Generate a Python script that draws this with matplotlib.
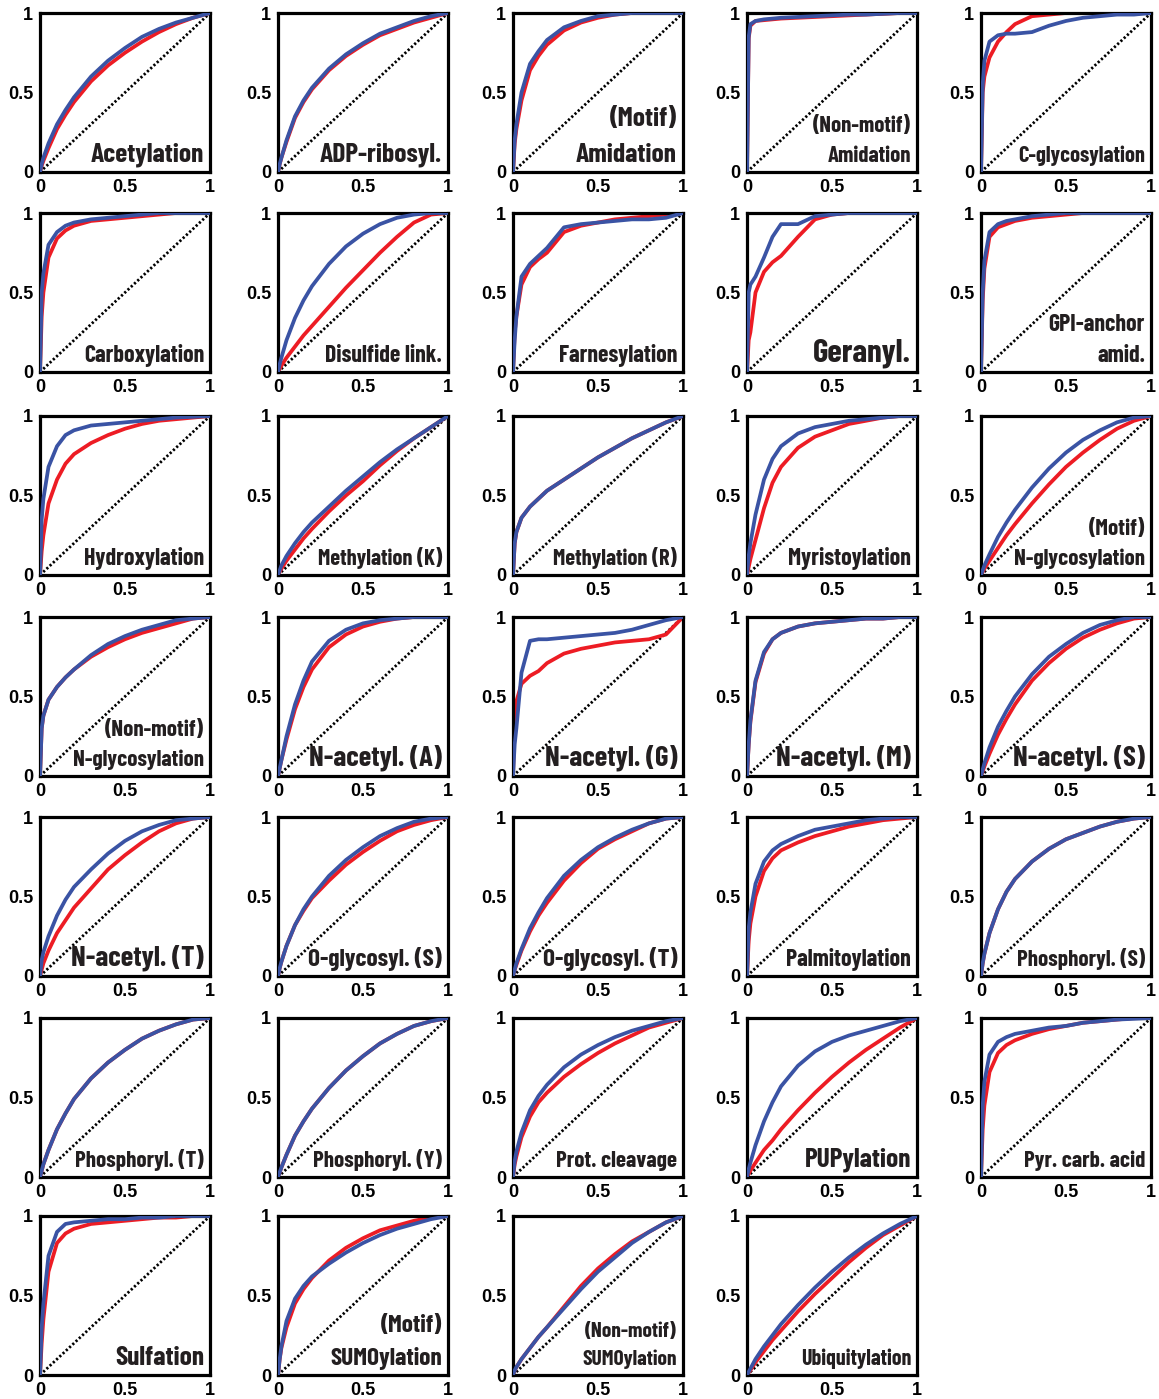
import matplotlib
matplotlib.use("Agg")
import matplotlib.pyplot as plt
from matplotlib import font_manager as fm
from matplotlib import transforms

# ---------------- data ----------------
fpr = [0, 0.01, 0.02, 0.05, 0.1, 0.15, 0.2, 0.3, 0.4, 0.5, 0.6, 0.7, 0.8, 0.9, 1.0]

acetylation_red = [0, 0.04, 0.07, 0.15, 0.27, 0.36, 0.44, 0.57, 0.67, 0.75, 0.82, 0.88, 0.93, 0.97, 1]
acetylation_blue = [0, 0.05, 0.09, 0.18, 0.30, 0.39, 0.47, 0.60, 0.70, 0.78, 0.85, 0.90, 0.94, 0.97, 1]
adp_red = [0, 0.05, 0.09, 0.19, 0.34, 0.44, 0.52, 0.64, 0.73, 0.80, 0.86, 0.90, 0.94, 0.97, 1]
adp_blue = [0, 0.05, 0.09, 0.20, 0.35, 0.45, 0.53, 0.65, 0.74, 0.81, 0.87, 0.91, 0.95, 0.98, 1]
amid_motif_red = [0, 0.18, 0.27, 0.45, 0.64, 0.73, 0.80, 0.89, 0.94, 0.97, 0.99, 1, 1, 1, 1]
amid_motif_blue = [0, 0.20, 0.30, 0.50, 0.68, 0.76, 0.83, 0.91, 0.95, 0.98, 0.99, 1, 1, 1, 1]
amid_nonmotif_red = [0, 0.84, 0.92, 0.95, 0.955, 0.96, 0.965, 0.97, 0.975, 0.98, 0.985, 0.99, 0.995, 1, 1]
amid_nonmotif_blue = [0, 0.85, 0.93, 0.95, 0.96, 0.965, 0.97, 0.975, 0.98, 0.985, 0.99, 0.99, 0.995, 1, 1]
cglyco_red = [0, 0.50, 0.60, 0.72, 0.82, 0.88, 0.93, 0.98, 0.99, 1, 1, 1, 1, 1, 1]
cglyco_blue = [0, 0.55, 0.70, 0.82, 0.86, 0.87, 0.87, 0.88, 0.92, 0.95, 0.97, 0.98, 0.99, 0.99, 1]

carboxylation_red = [0, 0.35, 0.50, 0.72, 0.84, 0.89, 0.92, 0.95, 0.96, 0.97, 0.98, 0.99, 1, 1, 1]
carboxylation_blue = [0, 0.50, 0.62, 0.80, 0.88, 0.92, 0.94, 0.96, 0.97, 0.98, 0.99, 1, 1, 1, 1]
disulfide_red = [0, 0.02, 0.04, 0.09, 0.16, 0.23, 0.29, 0.41, 0.53, 0.64, 0.75, 0.85, 0.94, 0.99, 1]
disulfide_blue = [0, 0.05, 0.09, 0.20, 0.34, 0.45, 0.54, 0.68, 0.79, 0.87, 0.93, 0.97, 0.99, 1, 1]
farnesyl_red = [0, 0.25, 0.35, 0.55, 0.66, 0.71, 0.75, 0.88, 0.92, 0.94, 0.96, 0.97, 0.98, 0.99, 1]
farnesyl_blue = [0, 0.20, 0.35, 0.60, 0.68, 0.73, 0.78, 0.91, 0.93, 0.94, 0.95, 0.96, 0.96, 0.97, 1]
geranyl_red = [0, 0.20, 0.25, 0.50, 0.63, 0.69, 0.73, 0.85, 0.96, 0.99, 1, 1, 1, 1, 1]
geranyl_blue = [0, 0.50, 0.55, 0.60, 0.72, 0.85, 0.93, 0.93, 0.98, 0.99, 1, 1, 1, 1, 1]
gpi_red = [0, 0.45, 0.65, 0.85, 0.91, 0.93, 0.95, 0.97, 0.98, 0.99, 1, 1, 1, 1, 1]
gpi_blue = [0, 0.50, 0.70, 0.88, 0.93, 0.95, 0.96, 0.98, 0.99, 1, 1, 1, 1, 1, 1]

hydroxyl_red = [0, 0.15, 0.25, 0.45, 0.60, 0.70, 0.76, 0.83, 0.88, 0.92, 0.95, 0.97, 0.98, 0.99, 1]
hydroxyl_blue = [0, 0.35, 0.48, 0.68, 0.81, 0.88, 0.91, 0.94, 0.95, 0.96, 0.97, 0.98, 0.99, 0.995, 1]
methyl_k_red = [0, 0.02, 0.04, 0.09, 0.16, 0.23, 0.29, 0.40, 0.50, 0.59, 0.69, 0.78, 0.86, 0.93, 1]
methyl_k_blue = [0, 0.03, 0.06, 0.12, 0.20, 0.27, 0.33, 0.43, 0.53, 0.62, 0.71, 0.79, 0.86, 0.93, 1]
methyl_r_red = [0, 0.20, 0.27, 0.36, 0.43, 0.48, 0.53, 0.60, 0.67, 0.74, 0.80, 0.86, 0.91, 0.96, 1]
methyl_r_blue = [0, 0.20, 0.27, 0.36, 0.43, 0.48, 0.53, 0.60, 0.67, 0.74, 0.80, 0.86, 0.91, 0.96, 1]
myristoyl_red = [0, 0.05, 0.10, 0.22, 0.42, 0.58, 0.68, 0.80, 0.87, 0.91, 0.95, 0.97, 0.99, 1, 1]
myristoyl_blue = [0, 0.12, 0.20, 0.38, 0.60, 0.73, 0.81, 0.89, 0.93, 0.95, 0.97, 0.98, 0.99, 1, 1]
nglyco_motif_red = [0, 0.02, 0.04, 0.09, 0.17, 0.25, 0.32, 0.45, 0.57, 0.68, 0.77, 0.85, 0.92, 0.97, 1]
nglyco_motif_blue = [0, 0.03, 0.06, 0.13, 0.24, 0.33, 0.41, 0.55, 0.67, 0.77, 0.85, 0.91, 0.96, 0.99, 1]

nglyco_nonmotif_red = [0, 0.30, 0.38, 0.48, 0.56, 0.62, 0.67, 0.75, 0.81, 0.86, 0.90, 0.93, 0.96, 0.99, 1]
nglyco_nonmotif_blue = [0, 0.30, 0.38, 0.48, 0.56, 0.62, 0.67, 0.76, 0.83, 0.88, 0.92, 0.95, 0.98, 0.99, 1]
nacetyl_a_red = [0, 0.05, 0.10, 0.23, 0.42, 0.56, 0.67, 0.81, 0.89, 0.94, 0.97, 0.99, 1, 1, 1]
nacetyl_a_blue = [0, 0.05, 0.10, 0.25, 0.45, 0.60, 0.72, 0.85, 0.92, 0.96, 0.98, 0.99, 1, 1, 1]
nacetyl_g_red = [0, 0.40, 0.47, 0.58, 0.63, 0.66, 0.71, 0.77, 0.80, 0.82, 0.84, 0.85, 0.86, 0.89, 1]
nacetyl_g_blue = [0, 0.20, 0.30, 0.65, 0.85, 0.86, 0.86, 0.87, 0.88, 0.89, 0.90, 0.92, 0.95, 0.98, 1]
nacetyl_m_red = [0, 0.20, 0.34, 0.59, 0.77, 0.86, 0.90, 0.94, 0.96, 0.97, 0.98, 0.99, 0.99, 1, 1]
nacetyl_m_blue = [0, 0.20, 0.35, 0.60, 0.78, 0.86, 0.90, 0.94, 0.96, 0.97, 0.98, 0.99, 0.99, 1, 1]
nacetyl_s_red = [0, 0.03, 0.06, 0.14, 0.26, 0.36, 0.45, 0.60, 0.71, 0.80, 0.87, 0.92, 0.96, 0.99, 1]
nacetyl_s_blue = [0, 0.04, 0.08, 0.18, 0.31, 0.41, 0.50, 0.64, 0.75, 0.83, 0.90, 0.95, 0.98, 1, 1]

nacetyl_t_red = [0, 0.04, 0.08, 0.16, 0.27, 0.35, 0.43, 0.55, 0.67, 0.76, 0.84, 0.91, 0.96, 0.99, 1]
nacetyl_t_blue = [0, 0.10, 0.15, 0.25, 0.38, 0.48, 0.56, 0.67, 0.77, 0.85, 0.91, 0.95, 0.98, 0.99, 1]
oglyco_s_red = [0, 0.05, 0.09, 0.19, 0.32, 0.41, 0.49, 0.60, 0.70, 0.78, 0.85, 0.91, 0.95, 0.98, 1]
oglyco_s_blue = [0, 0.05, 0.09, 0.19, 0.32, 0.42, 0.50, 0.63, 0.73, 0.81, 0.88, 0.93, 0.97, 0.99, 1]
oglyco_t_red = [0, 0.04, 0.07, 0.16, 0.28, 0.38, 0.46, 0.60, 0.71, 0.80, 0.86, 0.91, 0.96, 0.99, 1]
oglyco_t_blue = [0, 0.04, 0.08, 0.17, 0.30, 0.40, 0.49, 0.63, 0.73, 0.81, 0.87, 0.92, 0.96, 0.99, 1]
palmitoyl_red = [0, 0.22, 0.33, 0.50, 0.66, 0.74, 0.79, 0.84, 0.88, 0.91, 0.94, 0.96, 0.98, 0.99, 1]
palmitoyl_blue = [0, 0.30, 0.40, 0.58, 0.72, 0.79, 0.83, 0.88, 0.92, 0.94, 0.96, 0.98, 0.99, 1, 1]
phos_s_red = [0, 0.08, 0.14, 0.27, 0.42, 0.53, 0.61, 0.72, 0.80, 0.86, 0.90, 0.94, 0.97, 0.99, 1]
phos_s_blue = [0, 0.08, 0.14, 0.27, 0.42, 0.53, 0.61, 0.72, 0.80, 0.86, 0.90, 0.94, 0.97, 0.99, 1]

phos_t_red = [0, 0.04, 0.08, 0.17, 0.30, 0.40, 0.49, 0.62, 0.72, 0.80, 0.87, 0.92, 0.96, 0.99, 1]
phos_t_blue = [0, 0.04, 0.08, 0.17, 0.30, 0.40, 0.49, 0.62, 0.72, 0.80, 0.87, 0.92, 0.96, 0.99, 1]
phos_y_red = [0, 0.03, 0.06, 0.14, 0.26, 0.35, 0.43, 0.56, 0.67, 0.76, 0.84, 0.90, 0.95, 0.98, 1]
phos_y_blue = [0, 0.03, 0.06, 0.14, 0.26, 0.35, 0.43, 0.56, 0.67, 0.76, 0.84, 0.90, 0.95, 0.98, 1]
cleavage_red = [0, 0.08, 0.13, 0.25, 0.38, 0.47, 0.53, 0.63, 0.71, 0.78, 0.84, 0.89, 0.94, 0.97, 1]
cleavage_blue = [0, 0.10, 0.16, 0.28, 0.42, 0.51, 0.58, 0.69, 0.77, 0.83, 0.88, 0.92, 0.95, 0.98, 1]
pup_red = [0, 0.02, 0.04, 0.09, 0.17, 0.23, 0.30, 0.42, 0.53, 0.63, 0.72, 0.80, 0.87, 0.94, 1]
pup_blue = [0, 0.05, 0.09, 0.20, 0.35, 0.47, 0.57, 0.70, 0.79, 0.85, 0.89, 0.92, 0.95, 0.98, 1]
pyr_red = [0, 0.30, 0.45, 0.66, 0.78, 0.83, 0.86, 0.90, 0.93, 0.95, 0.97, 0.98, 0.99, 1, 1]
pyr_blue = [0, 0.45, 0.60, 0.77, 0.85, 0.88, 0.90, 0.92, 0.94, 0.95, 0.97, 0.98, 0.99, 0.995, 1]

sulfation_red = [0, 0.20, 0.35, 0.65, 0.83, 0.89, 0.92, 0.95, 0.96, 0.97, 0.98, 0.99, 0.99, 1, 1]
sulfation_blue = [0, 0.30, 0.45, 0.75, 0.90, 0.95, 0.96, 0.97, 0.98, 0.98, 0.99, 0.99, 1, 1, 1]
sumo_motif_red = [0, 0.10, 0.17, 0.30, 0.45, 0.54, 0.61, 0.72, 0.80, 0.86, 0.91, 0.94, 0.97, 0.99, 1]
sumo_motif_blue = [0, 0.10, 0.18, 0.34, 0.48, 0.56, 0.62, 0.70, 0.77, 0.83, 0.88, 0.92, 0.95, 0.98, 1]
sumo_nonmotif_red = [0, 0.03, 0.05, 0.10, 0.17, 0.24, 0.30, 0.43, 0.56, 0.67, 0.76, 0.84, 0.90, 0.96, 1]
sumo_nonmotif_blue = [0, 0.03, 0.05, 0.10, 0.17, 0.24, 0.30, 0.42, 0.54, 0.65, 0.74, 0.83, 0.90, 0.96, 1]
ubiq_red = [0, 0.015, 0.03, 0.08, 0.15, 0.22, 0.28, 0.40, 0.51, 0.61, 0.71, 0.80, 0.88, 0.94, 1]
ubiq_blue = [0, 0.02, 0.04, 0.10, 0.18, 0.25, 0.32, 0.44, 0.55, 0.65, 0.74, 0.82, 0.89, 0.95, 1]

labels = [
    ["Acetylation"], ["ADP-ribosyl."], ["(Motif)", "Amidation"], ["(Non-motif)", "Amidation"], ["C-glycosylation"],
    ["Carboxylation"], ["Disulfide link."], ["Farnesylation"], ["Geranyl."], ["GPI-anchor", "amid."],
    ["Hydroxylation"], ["Methylation (K)"], ["Methylation (R)"], ["Myristoylation"], ["(Motif)", "N-glycosylation"],
    ["(Non-motif)", "N-glycosylation"], ["N-acetyl. (A)"], ["N-acetyl. (G)"], ["N-acetyl. (M)"], ["N-acetyl. (S)"],
    ["N-acetyl. (T)"], ["O-glycosyl. (S)"], ["O-glycosyl. (T)"], ["Palmitoylation"], ["Phosphoryl. (S)"],
    ["Phosphoryl. (T)"], ["Phosphoryl. (Y)"], ["Prot. cleavage"], ["PUPylation"], ["Pyr. carb. acid"],
    ["Sulfation"], ["(Motif)", "SUMOylation"], ["(Non-motif)", "SUMOylation"], ["Ubiquitylation"],
]
red_curves = [acetylation_red, adp_red, amid_motif_red, amid_nonmotif_red, cglyco_red,
              carboxylation_red, disulfide_red, farnesyl_red, geranyl_red, gpi_red,
              hydroxyl_red, methyl_k_red, methyl_r_red, myristoyl_red, nglyco_motif_red,
              nglyco_nonmotif_red, nacetyl_a_red, nacetyl_g_red, nacetyl_m_red, nacetyl_s_red,
              nacetyl_t_red, oglyco_s_red, oglyco_t_red, palmitoyl_red, phos_s_red,
              phos_t_red, phos_y_red, cleavage_red, pup_red, pyr_red,
              sulfation_red, sumo_motif_red, sumo_nonmotif_red, ubiq_red]
blue_curves = [acetylation_blue, adp_blue, amid_motif_blue, amid_nonmotif_blue, cglyco_blue,
               carboxylation_blue, disulfide_blue, farnesyl_blue, geranyl_blue, gpi_blue,
               hydroxyl_blue, methyl_k_blue, methyl_r_blue, myristoyl_blue, nglyco_motif_blue,
               nglyco_nonmotif_blue, nacetyl_a_blue, nacetyl_g_blue, nacetyl_m_blue, nacetyl_s_blue,
               nacetyl_t_blue, oglyco_s_blue, oglyco_t_blue, palmitoyl_blue, phos_s_blue,
               phos_t_blue, phos_y_blue, cleavage_blue, pup_blue, pyr_blue,
               sulfation_blue, sumo_motif_blue, sumo_nonmotif_blue, ubiq_blue]
ticks = [0, 0.5, 1]
tick_labels = ["0", "0.5", "1"]

# relative label sizes
label_scale = [1.0, 1.0, 1.0, 0.83, 0.82,
               0.87, 0.87, 0.87, 1.2, 0.87,
               0.87, 0.82, 0.82, 0.87, 0.84,
               0.84, 1.05, 1.05, 1.05, 1.05,
               1.05, 0.92, 0.92, 0.87, 0.84,
               0.84, 0.84, 0.84, 1.0, 0.84,
               1.0, 0.92, 0.78, 0.8]

# ---------------- fonts ----------------
names = {f.name for f in fm.fontManager.ttflist}
label_family = ["DejaVu Sans"]
base_fs = 17
for cand, fsz in [("Barlow Condensed", 19.8), ("Asap Condensed", 19),
                  ("Archivo Narrow", 19), ("Liberation Sans Narrow", 17)]:
    if cand in names:
        label_family = [cand, "DejaVu Sans"]
        base_fs = fsz
        break
tick_family = ["Liberation Sans", "DejaVu Sans"]

RED = "#ED1C24"
BLUE = "#3A53A4"
TXT = "#231F20"

W, H = 1159, 1399
fig = plt.figure(figsize=(W / 100, H / 100), dpi=100)

col_left = [40, 278, 513, 747, 981]
row_top = [13, 213, 416, 617, 817, 1018, 1216]
aw, ah = 170, 159

for i, lab in enumerate(labels):
    r, c = divmod(i, 5)
    l = col_left[c] / W
    b = 1 - (row_top[r] + ah) / H
    ax = fig.add_axes([l, b, aw / W, ah / H])
    ax.plot([0, 1], [0, 1], color="black", lw=2.0, linestyle=(0, (0.8, 0.8)), zorder=1)
    ax.plot(fpr, red_curves[i], color=RED, lw=2.7, zorder=2, solid_joinstyle="round")
    ax.plot(fpr, blue_curves[i], color=BLUE, lw=2.7, zorder=3, solid_joinstyle="round")
    ax.set_xlim(0, 1)
    ax.set_ylim(0, 1)
    ax.set_xticks(ticks)
    ax.set_yticks(ticks)
    ax.set_xticklabels(tick_labels)
    ax.set_yticklabels(tick_labels)
    ax.tick_params(length=0, pad=5, labelsize=13)
    for t in ax.get_xticklabels() + ax.get_yticklabels():
        t.set_fontweight("bold")
        t.set_family(tick_family)
    for s in ax.spines.values():
        s.set_linewidth(2.3)
        s.set_color("black")
    fs = base_fs * label_scale[i]
    for k, line in enumerate(reversed(lab)):
        tr = transforms.offset_copy(ax.transAxes, fig=fig, x=0, y=k * fs * 1.3, units="points")
        ax.text(0.965, 0.065, line, transform=tr, ha="right", va="baseline",
                fontsize=fs, fontweight="bold", family=label_family, color=TXT, zorder=5)

fig.savefig("out.png", dpi=100)
